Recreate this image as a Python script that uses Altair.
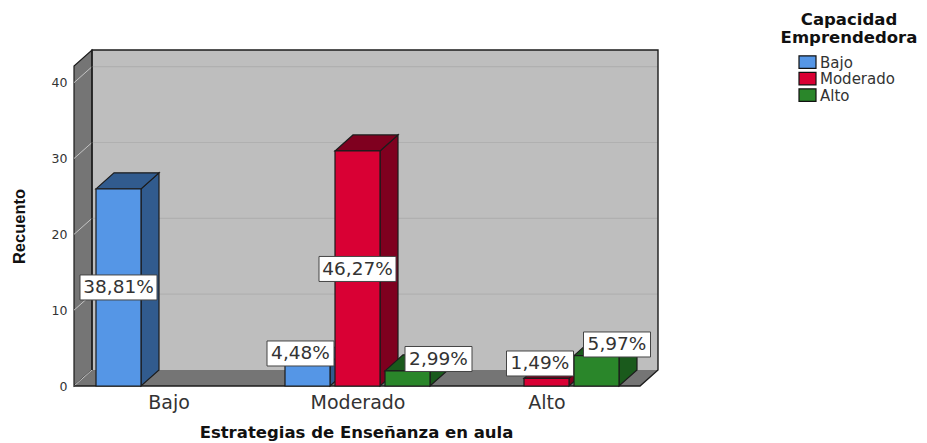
import altair as alt
import pandas as pd

categories = ["Bajo", "Moderado", "Alto"]
series = ["Bajo", "Moderado", "Alto"]
counts = {
    "Bajo": [26, 3, 0],
    "Moderado": [0, 31, 1],
    "Alto": [0, 2, 4],
}
percent_labels = {
    ("Bajo", "Bajo"): "38,81%",
    ("Moderado", "Bajo"): "4,48%",
    ("Moderado", "Moderado"): "46,27%",
    ("Moderado", "Alto"): "2,99%",
    ("Alto", "Moderado"): "1,49%",
    ("Alto", "Alto"): "5,97%",
}
front_colors = {"Bajo": "#5596E6", "Moderado": "#D90034", "Alto": "#2A862A"}
side_colors = {"Bajo": "#315B8E", "Moderado": "#7F001F", "Alto": "#1A5A1C"}
y_ticks = [0, 10, 20, 30, 40]
legend_title = ["Capacidad", "Emprendedora"]

# Layout of the pseudo-3D box (x unit = 1px from the front-left corner)
PX = 7.58
OX, OY = 74, 386
DX, DY = 18, 16 / PX
FRONT_W = 566
YTOP = 42.2
BAR_W, BAR_STEP, GROUP_STEP, BAR_START = 45, 50, 189, 22
PLOT_W, PLOT_H = FRONT_W + DX, 336
DARK = "#1c1c1c"
xs = alt.Scale(domain=[0, PLOT_W], nice=False, zero=False)
ys = alt.Scale(domain=[0, YTOP + DY], nice=False, zero=False)


def px(v):
    return v - OX


def py(v):
    return (OY - v) / PX


centers = [BAR_START + BAR_W + BAR_STEP - BAR_W / 2 + GROUP_STEP * i for i in range(3)]
label_expr = (
    f"datum.value<{centers[0] + 1}?'{categories[0]}':"
    f"datum.value<{centers[1] + 1}?'{categories[1]}':'{categories[2]}'"
)
x_axis = alt.Axis(
    values=centers, labelExpr=label_expr, grid=False, domain=False, ticks=False,
    title="Estrategias de Enseñanza en aula", titleFont="DejaVu Sans",
    titleFontSize=16.5, titleFontWeight="bold", titleColor="#111111",
    titleX=282, titlePadding=12, labelFont="DejaVu Sans", labelFontSize=19,
    labelColor="#333333", labelPadding=7, labelFlush=False, labelOverlap=False,
)
y_axis = alt.Axis(
    values=y_ticks, grid=False, domain=False, ticks=False, format="d",
    title="Recuento", titleFont="Liberation Sans", titleFontSize=16.5,
    titleFontWeight="bold", titleColor="#111111", titleX=-55, titleY=176,
    titleAngle=270, titleAlign="center", titleBaseline="middle",
    labelFont="DejaVu Sans", labelFontSize=12.5, labelColor="#333333", labelPadding=7,
)
X = alt.X("x:Q", scale=xs, axis=x_axis)
Y = alt.Y("y:Q", scale=ys, axis=y_axis)


def area(rows, fill, stroke=None):
    df = pd.DataFrame(rows, columns=["x", "y", "y2"])
    kw = dict(fill=fill, orient="vertical", interpolate="linear")
    if stroke:
        kw.update(stroke=stroke, strokeWidth=1.2)
    return alt.Chart(df).mark_area(**kw).encode(X, Y, y2="y2:Q")


def line(points, color, width=1.0):
    df = pd.DataFrame(points, columns=["x", "y"])
    df["i"] = range(len(df))
    return alt.Chart(df).mark_line(color=color, strokeWidth=width).encode(X, Y, order="i:Q")


def rect(x1, x2, y1, y2, fill, stroke=None, width=1.2):
    df = pd.DataFrame([{"x": x1, "x2": x2, "y": y1, "y2": y2}])
    kw = dict(fill=fill)
    if stroke:
        kw.update(stroke=stroke, strokeWidth=width)
    return alt.Chart(df).mark_rect(**kw).encode(X, alt.X2("x2:Q"), Y, alt.Y2("y2:Q"))


def text(t, x, y, size, font="DejaVu Sans", color="#333333", bold=False, align="center"):
    df = pd.DataFrame([{"x": x, "y": y, "t": t}])
    return alt.Chart(df).mark_text(
        font=font, fontSize=size, color=color, align=align, baseline="middle",
        fontWeight="bold" if bold else "normal",
    ).encode(X, Y, text="t:N")


# back wall
layers = [rect(DX, PLOT_W, DY, YTOP + DY, "#BEBEBE")]

# left wall and floor
layers.append(area([(0, 0, YTOP), (DX, DY, YTOP + DY)], "#757575", DARK))
layers.append(area([(0, 0, 0), (DX, DY, 0), (FRONT_W, DY, 0), (PLOT_W, DY, DY)], "#757575"))

# gridlines
for v in y_ticks:
    if v > 0:
        layers.append(line([(DX, v + DY), (PLOT_W, v + DY)], "#B0B0B0", 1.2))
    layers.append(line([(0, v), (DX, v + DY)], "#C4C4C4", 1.0))

# box outline
layers.append(line([(DX, DY), (DX, YTOP + DY), (PLOT_W, YTOP + DY), (PLOT_W, DY),
                    (FRONT_W, 0), (0, 0)], DARK, 1.4))

# bars
for ci, cat in enumerate(categories):
    for si, ser in enumerate(series):
        v = counts[ser][ci]
        if v == 0:
            continue
        x1 = BAR_START + GROUP_STEP * ci + BAR_STEP * si
        x2 = x1 + BAR_W
        layers.append(area([(x2, v, 0), (x2 + DX, v + DY, DY)], side_colors[ser], DARK))
        layers.append(area([(x1, v, v), (x1 + DX, v + DY, v), (x2, v + DY, v),
                            (x2 + DX, v + DY, v + DY)], side_colors[ser], DARK))
        layers.append(rect(x1, x2, 0, v, front_colors[ser], DARK))

# percentage boxes (centre x, centre y in page pixels; box width)
label_boxes = [
    (("Bajo", "Bajo"), 118.5, 287.5, 77),
    (("Moderado", "Moderado"), 357.5, 269, 77),
    (("Moderado", "Bajo"), 300.5, 353.5, 67),
    (("Moderado", "Alto"), 438.5, 359, 67),
    (("Alto", "Moderado"), 540, 363.5, 67),
    (("Alto", "Alto"), 617, 344.5, 67),
]
for key, cx, cy, w in label_boxes:
    layers.append(rect(px(cx - w / 2), px(cx + w / 2), py(cy + 12.5), py(cy - 12.5),
                       "white", "#444444", 1.0))
    layers.append(text(percent_labels[key], px(cx), py(cy), 18.5))

# legend
layers.append(text(legend_title[0], px(849), py(20.5), 16.5, color="#111111", bold=True))
layers.append(text(legend_title[1], px(849), py(38.5), 16.5, color="#111111", bold=True))
for i, ser in enumerate(series):
    top = 56 + 16.5 * i
    layers.append(rect(px(799), px(816), py(top + 12.5), py(top), front_colors[ser], "#111111", 1.2))
    layers.append(text(ser, px(820), py(top + 7), 15, align="left"))

chart = alt.layer(*layers).properties(
    width=PLOT_W, height=PLOT_H,
    autosize=alt.AutoSizeParams(type="none"),
    padding={"left": OX - 8, "top": 50 - 8, "right": 927 - 8 - OX - PLOT_W + 8 - 8, "bottom": 435 - 42 - PLOT_H},
    background="white",
).configure_view(stroke=None)

chart.save("out.html", embed_options={"renderer": "svg", "actions": False})
